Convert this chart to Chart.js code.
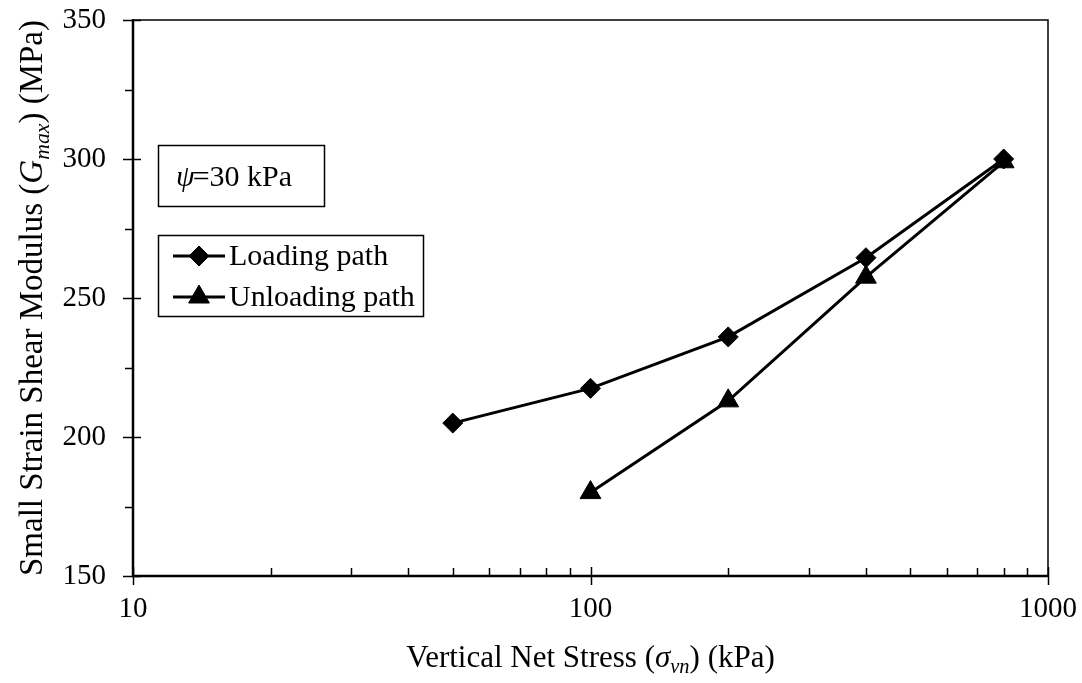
<!DOCTYPE html>
<html>
<head>
<meta charset="utf-8">
<title>Gmax vs vertical net stress</title>
<script src="https://cdn.jsdelivr.net/npm/chart.js@4.4.1/dist/chart.umd.min.js"></script>
<style>
  html, body { margin: 0; padding: 0; background: #ffffff; }
  #wrap { width: 1082px; height: 683px; }
  canvas { display: block; }
</style>
</head>
<body>
<div id="wrap"><canvas id="chart" width="1082" height="683"></canvas></div>
<script>
// Small strain shear modulus measured along the loading and unloading paths
const loadingStress = [50, 100, 200, 400, 800];          // kPa
const loadingGmax = [205, 217.5, 236, 264.5, 300];       // MPa
const unloadingStress = [800, 400, 200, 100];            // kPa
const unloadingGmax = [299, 257.5, 213, 180];            // MPa

const seriesNames = ['Loading path', 'Unloading path'];
const suctionText = '=30 kPa';

// Axis ticks
const xMajorTicks = [10, 100, 1000];
const xMinorTicks = [20, 30, 40, 50, 60, 70, 80, 90, 200, 300, 400, 500, 600, 700, 800, 900];
const yMajorTicks = [150, 200, 250, 300, 350];
const yMinorTicks = [175, 225, 275, 325];

const SERIF = "'Liberation Serif', 'Times New Roman', serif";
const INK = '#000000';

function font(size, italic) {
  return (italic ? 'italic ' : '') + size + 'px ' + SERIF;
}

// Draws a run of mixed upright / italic / subscript text, centred on cx, with baseline at by
function drawRich(ctx, runs, cx, by, size) {
  let total = 0;
  runs.forEach(r => {
    const s = r.sub ? size * 0.66 : size;
    ctx.font = font(s, r.italic);
    r.w = ctx.measureText(r.t).width;
    total += r.w;
  });
  let x = cx - total / 2;
  ctx.textAlign = 'left';
  ctx.textBaseline = 'alphabetic';
  runs.forEach(r => {
    const s = r.sub ? size * 0.66 : size;
    ctx.font = font(s, r.italic);
    ctx.fillText(r.t, x, by + (r.sub ? size * 0.2 : 0));
    x += r.w;
  });
}

function markerPath(ctx, style, x, y, r) {
  ctx.beginPath();
  if (style === 'rectRot') {
    ctx.moveTo(x - r, y);
    ctx.lineTo(x, y - r);
    ctx.lineTo(x + r, y);
    ctx.lineTo(x, y + r);
  } else {
    const h = Math.sin(Math.PI / 3) * r;
    ctx.moveTo(x, y - r);
    ctx.lineTo(x + h, y + r / 2);
    ctx.lineTo(x - h, y + r / 2);
  }
  ctx.closePath();
}

const decorations = {
  id: 'decorations',
  afterDraw(chart) {
    const ctx = chart.ctx;
    const xs = chart.scales.x;
    const ys = chart.scales.y;
    const a = chart.chartArea;
    ctx.save();
    ctx.strokeStyle = INK;
    ctx.fillStyle = INK;

    // plot frame: thin top/right, heavier axis lines
    ctx.lineWidth = 1.5;
    ctx.beginPath();
    ctx.moveTo(a.left, a.top); ctx.lineTo(a.right, a.top); ctx.lineTo(a.right, a.bottom);
    ctx.stroke();
    ctx.lineWidth = 2.5;
    ctx.beginPath();
    ctx.moveTo(a.left, a.top - 1); ctx.lineTo(a.left, a.bottom); ctx.lineTo(a.right + 1, a.bottom);
    ctx.stroke();

    // x ticks: majors cross the axis, minors point inwards
    ctx.lineWidth = 1.5;
    ctx.beginPath();
    xMajorTicks.forEach(v => {
      const px = Math.round(xs.getPixelForValue(v)) + 0.5;
      ctx.moveTo(px, a.bottom - 9); ctx.lineTo(px, a.bottom + 9);
    });
    xMinorTicks.forEach(v => {
      const px = Math.round(xs.getPixelForValue(v)) + 0.5;
      ctx.moveTo(px, a.bottom); ctx.lineTo(px, a.bottom - 8);
    });
    // y ticks: majors cross the axis, minors point outwards
    yMajorTicks.forEach(v => {
      const py = Math.round(ys.getPixelForValue(v)) + 0.5;
      ctx.moveTo(a.left - 10, py); ctx.lineTo(a.left + 8, py);
    });
    yMinorTicks.forEach(v => {
      const py = Math.round(ys.getPixelForValue(v)) + 0.5;
      ctx.moveTo(a.left - 8, py); ctx.lineTo(a.left, py);
    });
    ctx.stroke();

    // axis titles
    drawRich(ctx, [
      { t: 'Vertical Net Stress (' },
      { t: '\u03C3', italic: true },
      { t: 'vn', italic: true, sub: true },
      { t: ') (kPa)' }
    ], (a.left + a.right) / 2, 667, 31);

    ctx.save();
    ctx.translate(42, (a.top + a.bottom) / 2);
    ctx.rotate(-Math.PI / 2);
    drawRich(ctx, [
      { t: 'Small Strain Shear Modulus (' },
      { t: 'G', italic: true },
      { t: 'max', italic: true, sub: true },
      { t: ') (MPa)' }
    ], 0, 0, 33);
    ctx.restore();

    // suction annotation box
    ctx.lineWidth = 1.5;
    ctx.strokeRect(158.5, 145.5, 166, 61);
    ctx.textAlign = 'left';
    ctx.textBaseline = 'alphabetic';
    ctx.font = font(30, true);
    ctx.fillText('\u03C8', 176, 186);
    const psiW = ctx.measureText('\u03C8').width;
    ctx.font = font(30, false);
    ctx.fillText(suctionText, 176 + psiW - 2, 186);

    // legend box
    ctx.strokeRect(158.5, 235.5, 265, 81);
    const rows = [
      { y: 256, ds: chart.data.datasets[0] },
      { y: 297, ds: chart.data.datasets[1] }
    ];
    rows.forEach(row => {
      ctx.lineWidth = row.ds.borderWidth;
      ctx.beginPath();
      ctx.moveTo(173, row.y); ctx.lineTo(225, row.y);
      ctx.stroke();
      markerPath(ctx, row.ds.pointStyle, 199, row.y, row.ds.pointRadius);
      ctx.fill();
      ctx.lineWidth = 1;
      ctx.stroke();
      ctx.font = font(30, false);
      ctx.textBaseline = 'middle';
      ctx.fillText(row.ds.label, 229, row.y + 1);
    });
    ctx.restore();
  }
};

new Chart(document.getElementById('chart'), {
  type: 'scatter',
  data: {
    datasets: [
      {
        label: seriesNames[0],
        data: loadingStress.map((x, i) => ({ x, y: loadingGmax[i] })),
        showLine: true,
        borderColor: INK,
        backgroundColor: INK,
        borderWidth: 3,
        pointStyle: 'rectRot',
        pointRadius: 10,
        pointBorderWidth: 1,
        pointBackgroundColor: INK,
        pointBorderColor: INK
      },
      {
        label: seriesNames[1],
        data: unloadingStress.map((x, i) => ({ x, y: unloadingGmax[i] })),
        showLine: true,
        borderColor: INK,
        backgroundColor: INK,
        borderWidth: 3,
        pointStyle: 'triangle',
        pointRadius: 12,
        pointBorderWidth: 1,
        pointBackgroundColor: INK,
        pointBorderColor: INK
      }
    ]
  },
  options: {
    responsive: false,
    animation: false,
    devicePixelRatio: 1,
    layout: { padding: { left: 0, top: 20, right: 34, bottom: 0 } },
    plugins: {
      legend: { display: false },
      tooltip: { enabled: false }
    },
    scales: {
      x: {
        type: 'logarithmic',
        min: 10,
        max: 1000,
        afterBuildTicks: s => { s.ticks = xMajorTicks.map(v => ({ value: v })); },
        afterFit: s => { s.height = 107; s.paddingLeft = 0; s.paddingRight = 0; },
        grid: { display: false, drawTicks: false },
        border: { display: false },
        ticks: {
          autoSkip: false,
          maxRotation: 0,
          padding: 16,
          color: INK,
          font: { family: SERIF, size: 29 },
          callback: v => String(v)
        }
      },
      y: {
        type: 'linear',
        min: 150,
        max: 350,
        afterBuildTicks: s => { s.ticks = yMajorTicks.map(v => ({ value: v })); },
        afterFit: s => { s.width = 133; s.paddingTop = 0; s.paddingBottom = 0; },
        grid: { display: false, drawTicks: false },
        border: { display: false },
        ticks: {
          padding: 27,
          color: INK,
          font: { family: SERIF, size: 29 },
          callback: v => String(v)
        }
      }
    }
  },
  plugins: [decorations]
});
</script>
</body>
</html>
